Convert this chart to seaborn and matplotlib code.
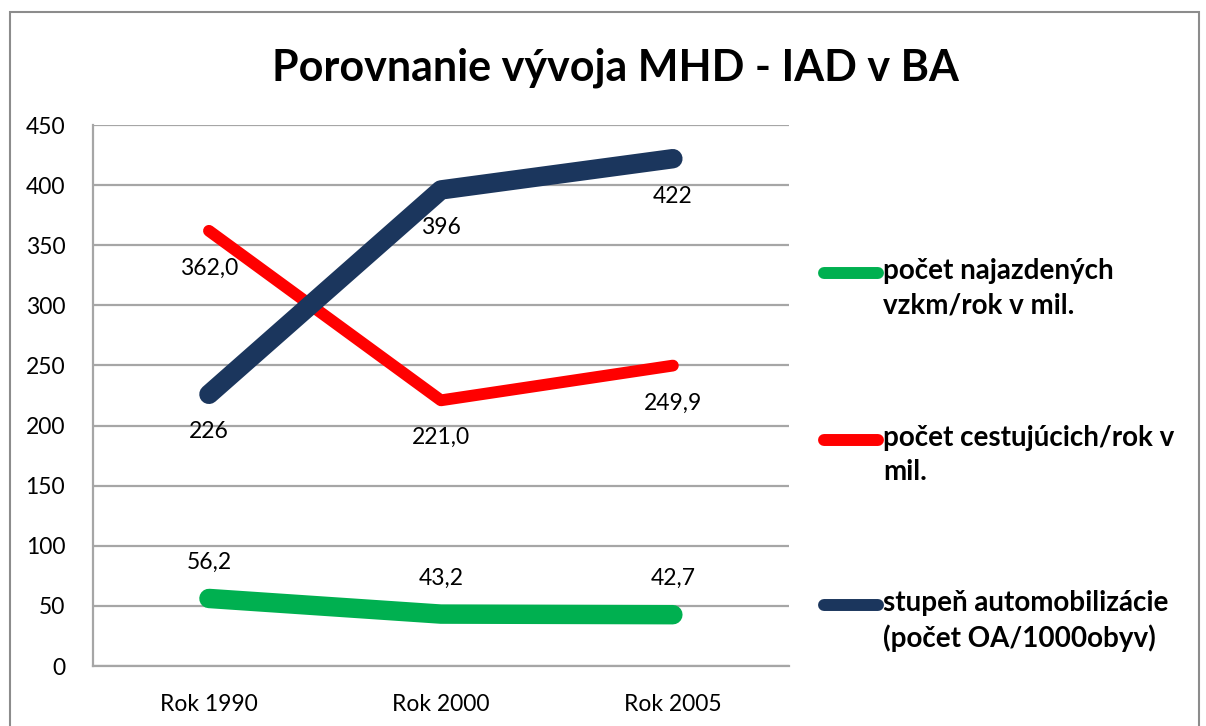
import matplotlib
matplotlib.use("Agg")
import matplotlib.pyplot as plt
import seaborn as sns
import pandas as pd
from matplotlib.patches import Rectangle
from matplotlib.lines import Line2D

categories = ["Rok 1990", "Rok 2000", "Rok 2005"]
series_names = [
    "počet najazdených\nvzkm/rok v mil.",
    "počet cestujúcich/rok v\nmil.",
    "stupeň automobilizácie\n(počet OA/1000obyv)",
]
vzkm = [56.2, 43.2, 42.7]
cestujuci = [362.0, 221.0, 249.9]
automob = [226, 396, 422]
label_vzkm = ["56,2", "43,2", "42,7"]
label_cest = ["362,0", "221,0", "249,9"]
label_auto = ["226", "396", "422"]
title = "Porovnanie vývoja MHD - IAD v BA"

colors = ["#00b050", "#ff0000", "#1b365d"]
widths = [14, 8.5, 14]

sns.set_theme(style="white")
plt.rcParams["font.family"] = ["Lato", "DejaVu Sans"]
plt.rcParams["text.color"] = "black"
plt.rcParams["xtick.color"] = "black"
plt.rcParams["ytick.color"] = "black"

rows = []
for name, vals in zip(series_names, [vzkm, cestujuci, automob]):
    for c, v in zip(categories, vals):
        rows.append({"cat": c, "val": v, "series": name})
df = pd.DataFrame(rows)

fig = plt.figure(figsize=(12.06, 7.26), dpi=100)
ax = fig.add_axes([0.0771, 0.0826, 0.577, 0.7452])

for i, name in enumerate(series_names):
    sub = df[df["series"] == name]
    sns.lineplot(data=sub, x="cat", y="val", color=colors[i], lw=widths[i],
                 ax=ax, legend=False, solid_capstyle="round", solid_joinstyle="round",
                 sort=False)

ax.set_xlim(-0.5, 2.5)
ax.set_ylim(0, 450)
ax.set_yticks(range(0, 451, 50))
ax.yaxis.grid(True, color="#a6a6a6", lw=1.6)
ax.set_axisbelow(True)
for s in ["top", "right"]:
    ax.spines[s].set_visible(False)
for s in ["left", "bottom"]:
    ax.spines[s].set_color("#a6a6a6")
    ax.spines[s].set_linewidth(1.6)
ax.set_xlabel("")
ax.set_ylabel("")
ax.tick_params(axis="y", labelsize=16.5, pad=20, length=0)
ax.tick_params(axis="x", labelsize=16.5, pad=20, length=0)

for vals, labs, dy in [(vzkm, label_vzkm, 26), (cestujuci, label_cest, -27), (automob, label_auto, -27)]:
    for i, (v, t) in enumerate(zip(vals, labs)):
        ax.annotate(t, (i, v), xytext=(0, dy), textcoords="offset points",
                    ha="center", va="center", fontsize=16.5)

# legend (handle aligned with first text line)
leg_y = [1 - 273 / 726, 1 - 440 / 726, 1 - 605 / 726]
for name, c, y in zip(series_names, colors, leg_y):
    fig.add_artist(Line2D([824 / 1206, 878 / 1206], [y, y], transform=fig.transFigure,
                          color=c, lw=8.6, solid_capstyle="round"))
    fig.text(883 / 1206, y + 0.021, name, ha="left", va="top", fontsize=20,
             fontweight="bold", linespacing=1.4)

fig.text(0.51, 0.907, title, ha="center", va="center", fontsize=31, fontweight="bold")

fig.patches.append(Rectangle((0.008, -0.05), 0.986, 1.034, transform=fig.transFigure,
                             fill=False, edgecolor="#8c8c8c", lw=1.5))

fig.savefig("out.png", dpi=100)
